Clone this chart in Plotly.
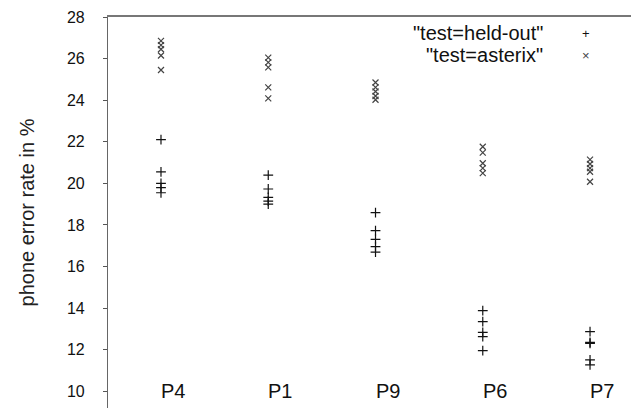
import plotly.graph_objects as go

categories = ["P4", "P1", "P9", "P6", "P7"]
held_out = [
    [22.1, 20.55, 20.0, 19.8, 19.55],
    [20.4, 19.73, 19.33, 19.15, 19.0],
    [18.59, 17.73, 17.31, 16.96, 16.69],
    [13.88, 13.35, 12.84, 12.63, 11.96],
    [12.87, 12.36, 12.31, 11.51, 11.27],
]
asterix = [
    [26.85, 26.65, 26.45, 26.15, 25.45],
    [26.05, 25.82, 25.58, 24.62, 24.09],
    [24.85, 24.62, 24.42, 24.2, 24.02],
    [21.76, 21.48, 20.97, 20.73, 20.49],
    [21.14, 20.93, 20.73, 20.56, 20.08],
]
y_ticks = [10, 12, 14, 16, 18, 20, 22, 24, 26, 28]
label_level = 10

FONT = "Liberation Sans, Arial, sans-serif"

def flatten(groups):
    xs, ys = [], []
    for cat, vals in zip(categories, groups):
        for v in vals:
            xs.append(cat)
            ys.append(v)
    return xs, ys

fig = go.Figure()
hx, hy = flatten(held_out)
ax_, ay = flatten(asterix)
fig.add_trace(go.Scatter(x=hx, y=hy, mode="markers", name='"test=held-out"',
                         marker=dict(symbol="cross-thin", size=7,
                                     line=dict(width=1.2, color="#111111"))))
fig.add_trace(go.Scatter(x=ax_, y=ay, mode="markers", name='"test=asterix"',
                         marker=dict(symbol="x-thin", size=6,
                                     line=dict(width=1.2, color="#444444"))))

for cat in categories:
    fig.add_annotation(x=cat, y=label_level, xref="x", yref="y", text=cat,
                       showarrow=False, xanchor="left", yanchor="middle", xshift=-2,
                       font=dict(family=FONT, size=20, color="#111111"))

# legend (gnuplot style: text right aligned, sample on right)
legend_items = [('"test=held-out"', "+", "#111111"), ('"test=asterix"', "×", "#444444")]
for i, (txt, sym, col) in enumerate(legend_items):
    yy = 1 - (33 - 17 + i * 22) / 391
    fig.add_annotation(x=(545 - 108) / 523, y=yy, xref="paper", yref="paper", text=txt,
                       showarrow=False, xanchor="right", yanchor="middle",
                       font=dict(family=FONT, size=20, color="#111111"))
    fig.add_annotation(x=(586 - 108) / 523, y=yy, xref="paper", yref="paper", text=sym,
                       showarrow=False, xanchor="center", yanchor="middle",
                       font=dict(family=FONT, size=13, color=col))

fig.update_layout(
    width=631, height=408,
    margin=dict(l=108, r=0, t=17, b=0),
    paper_bgcolor="white", plot_bgcolor="white",
    showlegend=False,
    font=dict(family=FONT, size=17, color="#111111"),
    xaxis=dict(type="category", categoryorder="array", categoryarray=categories,
               range=[-0.494, 4.382], side="top", showline=True, linecolor="#777777",
               linewidth=1.5, showticklabels=False, ticks="", showgrid=False,
               zeroline=False),
    yaxis=dict(range=[9.2, 28], tickvals=y_ticks, showline=True, linecolor="#666666",
               linewidth=1.2, ticks="outside", ticklen=4, tickcolor="#555555",
               showgrid=False, zeroline=False, ticklabelstandoff=15,
               tickfont=dict(family=FONT, size=16, color="#111111"),
               title=dict(text="phone error rate in %", standoff=26,
                          font=dict(family=FONT, size=20, color="#222222"))),
)

fig.write_html("out.html", config={"displayModeBar": False},
               post_script="document.body.style.margin='0';document.body.style.overflow='hidden';")
